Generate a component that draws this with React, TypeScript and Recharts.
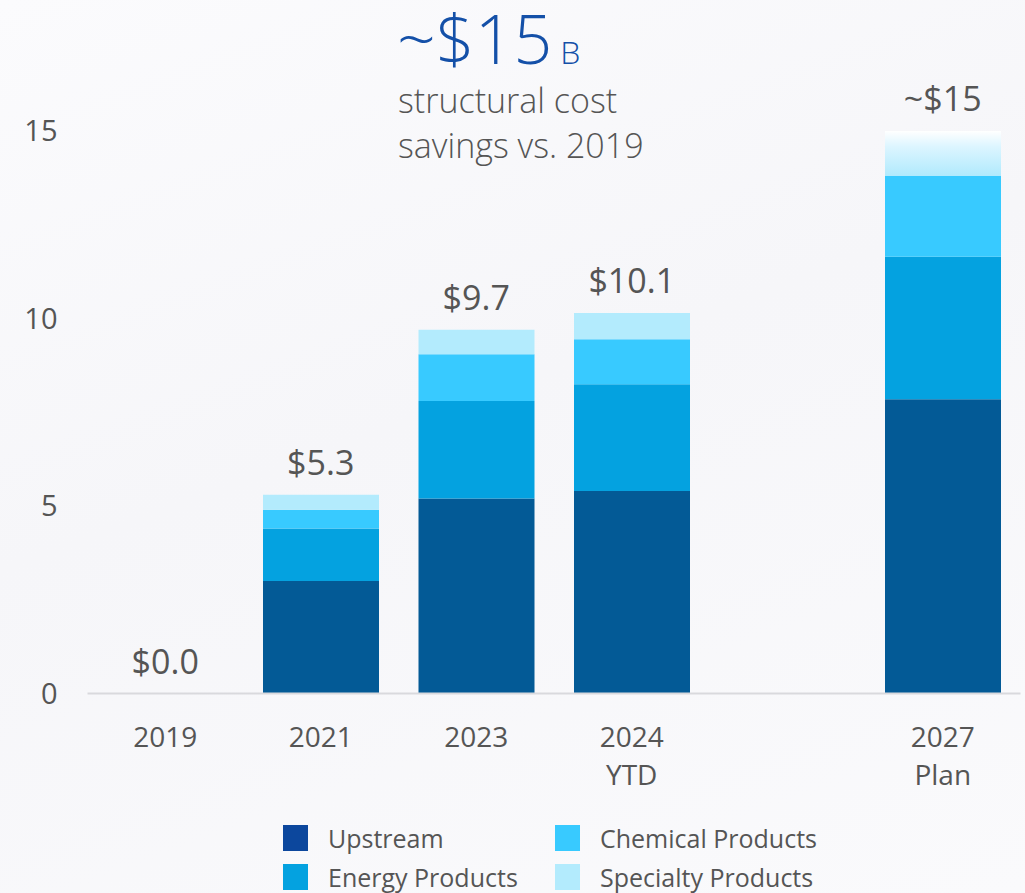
import React from "react";
import { ComposedChart, Bar, Line, XAxis, YAxis, Cell, LabelList } from "recharts";

// chart values (US$ billions)
const categories = ["2019", "2021", "2023", "2024\nYTD", " ", "2027\nPlan"];
const upstream = [0, 3.0, 5.2, 5.4, null, 7.85];
const energyProducts = [0, 1.4, 2.6, 2.85, null, 3.8];
const chemicalProducts = [0, 0.5, 1.25, 1.2, null, 2.15];
const specialtyProducts = [0, 0.4, 0.65, 0.7, null, 1.2];
const totals = [0, 5.3, 9.7, 10.15, null, 15];
const totalLabels = ["$0.0", "$5.3", "$9.7", "$10.1", "", "~$15"];
const yTicks = [0, 5, 10, 15];

const COLORS = {
  upstream: "#035a96",
  energy: "#04a2e0",
  chemical: "#38caff",
  specialty: "#b3ebfd",
};

const legendItems = [
  { name: "Upstream", color: "#0c479d", col: 0, row: 0 },
  { name: "Energy Products", color: "#04a2e0", col: 0, row: 1 },
  { name: "Chemical Products", color: "#38caff", col: 1, row: 0 },
  { name: "Specialty Products", color: "#b3ebfd", col: 1, row: 1 },
];

const FONT = "'Open Sans', 'Noto Sans', sans-serif";
const TEXT_GRAY = "#555555";

const chartData = categories.map((name, i) => ({
  name,
  upstream: upstream[i],
  energy: energyProducts[i],
  chemical: chemicalProducts[i],
  specialty: specialtyProducts[i],
  total: totals[i],
  totalLabel: totalLabels[i],
}));

const CategoryTick = ({ x, y, payload }: any) => {
  const lines = String(payload.value).trim().split("\n");
  if (!lines[0]) return null;
  return (
    <text x={x} y={y} textAnchor="middle" fill={TEXT_GRAY} fontSize={28} fontFamily={FONT}>
      {lines.map((line, i) => (
        <tspan key={i} x={x} dy={i === 0 ? 53 : 38}>
          {line}
        </tspan>
      ))}
    </text>
  );
};

export default function App() {
  return (
    <div
      style={{
        position: "relative",
        width: 1025,
        height: 893,
        fontFamily: FONT,
        background: "linear-gradient(160deg, #fbfbfd 0%, #f6f6f9 45%, #fafafc 100%)",
        overflow: "hidden",
      }}
    >
      <style>{"body{margin:0}"}</style>
      <ComposedChart
        width={1025}
        height={893}
        data={chartData}
        margin={{ top: 131, right: 4.5, left: 0, bottom: 0 }}
        barCategoryGap={20}
      >
        <defs>
          <linearGradient id="specFade" x1="0" y1="0" x2="0" y2="1">
            <stop offset="0%" stopColor="#ffffff" />
            <stop offset="35%" stopColor="#dcf5ff" />
            <stop offset="100%" stopColor="#b0eafd" />
          </linearGradient>
        </defs>
        <XAxis
          dataKey="name"
          height={199.5}
          axisLine={{ stroke: "#d9d9dd", strokeWidth: 2 }}
          tickLine={false}
          tickSize={0}
          tickMargin={0}
          interval={0}
          tick={<CategoryTick />}
        />
        <YAxis
          width={87.5}
          domain={[0, 15]}
          ticks={yTicks}
          axisLine={false}
          tickLine={false}
          tickSize={0}
          tickMargin={30}
          tick={{ fill: TEXT_GRAY, fontSize: 29, fontFamily: FONT }}
        />
        <Bar dataKey="upstream" stackId="a" fill={COLORS.upstream} isAnimationActive={false} />
        <Bar dataKey="energy" stackId="a" fill={COLORS.energy} isAnimationActive={false} />
        <Bar dataKey="chemical" stackId="a" fill={COLORS.chemical} isAnimationActive={false} />
        <Bar dataKey="specialty" stackId="a" fill={COLORS.specialty} isAnimationActive={false}>
          {chartData.map((d, i) => (
            <Cell key={i} fill={d.name.startsWith("2027") ? "url(#specFade)" : COLORS.specialty} />
          ))}
        </Bar>
        {/* invisible series carrying the total labels */}
        <Line
          dataKey="total"
          stroke="none"
          dot={false}
          activeDot={false}
          legendType="none"
          isAnimationActive={false}
        >
          <LabelList
            dataKey="totalLabel"
            position="top"
            offset={20}
            fill={TEXT_GRAY}
            fontSize={34}
            fontFamily={FONT}
          />
        </Line>
      </ComposedChart>

      {/* headline and legend */}
      <svg
        width={1025}
        height={893}
        style={{ position: "absolute", left: 0, top: 0, pointerEvents: "none" }}
      >
        <text x={397} y={64} fill="#1450a8" fontFamily={FONT} fontWeight={300}>
          <tspan fontSize={68}>~$15</tspan>
          <tspan fontSize={32} dx={8}>B</tspan>
        </text>
        <text x={398} y={113} fill={TEXT_GRAY} fontSize={34} fontWeight={300} fontFamily={FONT}>
          structural cost
        </text>
        <text x={398} y={158} fill={TEXT_GRAY} fontSize={34} fontWeight={300} fontFamily={FONT}>
          savings vs. 2019
        </text>
        {legendItems.map((item) => {
          const sx = item.col === 0 ? 283 : 555;
          const sy = item.row === 0 ? 825 : 864;
          return (
            <g key={item.name}>
              <rect x={sx} y={sy} width={25} height={26} fill={item.color} />
              <text x={sx + 45} y={sy + 23} fill={TEXT_GRAY} fontSize={25} fontFamily={FONT}>
                {item.name}
              </text>
            </g>
          );
        })}
      </svg>
    </div>
  );
}
